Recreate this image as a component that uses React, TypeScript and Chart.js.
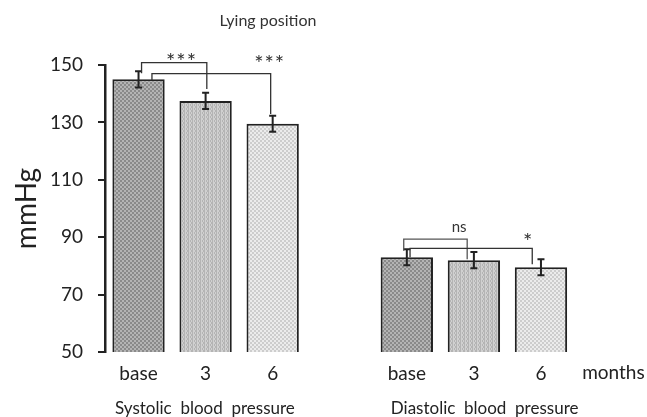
import React, { useEffect, useRef } from 'react';
import { Chart, registerables } from 'chart.js';

Chart.register(...registerables);

const FONT = 'Lato, "Open Sans", sans-serif';

const categories = ['base', '3', '6', '', 'base', '3', '6'];
const values: (number | null)[] = [145, 137.5, 129.5, null, 83, 82, 79.5];
const errors: (number | null)[] = [2.8, 2.8, 2.8, null, 2.8, 2.8, 2.8];
const patternKinds = ['dark', 'mid', 'light', 'light', 'dark', 'mid', 'light'];
const yMin = 50;
const yMax = 150;
const yStep = 20;
const titleText = 'Lying position';
const yTitle = 'mmHg';
const unitLabel = 'months';
const unitPos = 7.08;
const groupLabels = ['Systolic  blood  pressure', 'Diastolic  blood  pressure'];
const groupCenters = [0.99, 5.16];

// significance brackets: positions in category units, levels in mmHg
const bracketFrom = [0.045, 0.2, 3.954, 4.048];
const bracketTo = [1.018, 1.97, 4.9, 5.87];
const bracketLevel = [150.8, 147.0, 89.3, 86.1];
const bracketFromEnd = [147.1, 144.8, 85.3, 83.0];
const bracketToEnd = [141.6, 132.9, 82.3, 80.6];
const bracketColors = ['#333', '#333', '#555', '#333'];

const sigTexts = ['***', '***', 'ns', '*'];
const sigPos = [0.64, 1.955, 4.78, 5.81];
const sigLevel = [148.6, 147.9, 91.8, 85.9];

function makePattern(kind: string): CanvasPattern | string {
  const c = document.createElement('canvas');
  c.width = 4;
  c.height = 4;
  const g = c.getContext('2d');
  if (!g) return '#bbb';
  let a = '#8a8a8a';
  let b = '#b4b4b4';
  if (kind === 'mid') { a = '#b4b4b4'; b = '#d0d0d0'; }
  if (kind === 'light') { a = '#cdcdcd'; b = '#ececec'; }
  g.fillStyle = b;
  g.fillRect(0, 0, 4, 4);
  g.fillStyle = a;
  if (kind === 'mid') {
    g.fillRect(0, 0, 1, 4);
    g.fillRect(2, 0, 1, 2);
    g.fillRect(3, 2, 1, 2);
  } else {
    g.fillRect(0, 0, 2, 2);
    g.fillRect(2, 2, 2, 2);
  }
  const p = g.createPattern(c, 'repeat');
  return p || a;
}

const annotPlugin = {
  id: 'annot',
  afterDatasetsDraw(chart: any) {
    const ctx = chart.ctx as CanvasRenderingContext2D;
    const xs = chart.scales.x;
    const ys = chart.scales.y;
    const area = chart.chartArea;
    const slot = (area.right - area.left) / categories.length;
    const xAt = (p: number) => area.left + (p + 0.5) * slot;
    ctx.save();
    // error bars
    ctx.strokeStyle = '#222';
    ctx.lineWidth = 2;
    values.forEach((v, i) => {
      const e = errors[i];
      if (v == null || e == null) return;
      const x = xs.getPixelForValue(i);
      const yt = ys.getPixelForValue(v + e);
      const yb = ys.getPixelForValue(v - e);
      ctx.beginPath();
      ctx.moveTo(x, yt);
      ctx.lineTo(x, yb);
      ctx.moveTo(x - 3.5, yt);
      ctx.lineTo(x + 3.5, yt);
      ctx.moveTo(x - 3.5, yb);
      ctx.lineTo(x + 3.5, yb);
      ctx.stroke();
    });
    // brackets
    ctx.lineWidth = 1.3;
    bracketFrom.forEach((f, i) => {
      const x1 = xAt(f);
      const x2 = xAt(bracketTo[i]);
      const yl = ys.getPixelForValue(bracketLevel[i]);
      ctx.strokeStyle = bracketColors[i];
      ctx.beginPath();
      ctx.moveTo(x1, ys.getPixelForValue(bracketFromEnd[i]));
      ctx.lineTo(x1, yl);
      ctx.lineTo(x2, yl);
      ctx.lineTo(x2, ys.getPixelForValue(bracketToEnd[i]));
      ctx.stroke();
    });
    // significance labels
    ctx.fillStyle = '#333';
    ctx.textAlign = 'center';
    ctx.textBaseline = 'alphabetic';
    sigTexts.forEach((t, i) => {
      const isStar = t.indexOf('*') >= 0;
      ctx.font = (isStar ? '22px ' : '15px ') + FONT;
      (ctx as any).letterSpacing = isStar ? '1px' : '0px';
      ctx.fillText(t, xAt(sigPos[i]), ys.getPixelForValue(sigLevel[i]));
    });
    (ctx as any).letterSpacing = '0px';
    // title
    ctx.font = '16px ' + FONT;
    ctx.fillStyle = '#333';
    ctx.textBaseline = 'middle';
    ctx.fillText(titleText, 268, 21);
    // unit label
    ctx.font = '19px ' + FONT;
    ctx.fillStyle = '#222';
    ctx.fillText(unitLabel, xAt(unitPos), 373);
    // group labels
    ctx.font = '17px ' + FONT;
    groupLabels.forEach((g, i) => {
      ctx.fillText(g, xAt(groupCenters[i]), 409);
    });
    ctx.restore();
  },
};

export default function App() {
  const ref = useRef<HTMLCanvasElement>(null);
  useEffect(() => {
    if (!ref.current) return;
    const fills = patternKinds.map(makePattern);
    const chart = new Chart(ref.current, {
      type: 'bar',
      data: {
        labels: categories,
        datasets: [
          {
            data: values as any,
            backgroundColor: fills as any,
            borderColor: '#222',
            borderWidth: 2,
            borderSkipped: false,
            barPercentage: 0.78,
            categoryPercentage: 1,
          },
        ],
      },
      options: {
        responsive: false,
        animation: false,
        devicePixelRatio: 1,
        layout: { padding: { top: 65, right: 72.5, bottom: 0, left: 0 } },
        plugins: { legend: { display: false }, title: { display: false }, tooltip: { enabled: false } },
        scales: {
          x: {
            grid: { display: false, drawTicks: false },
            border: { display: false },
            ticks: { font: { family: FONT, size: 19 }, color: '#222', padding: 10, maxRotation: 0, autoSkip: false },
            afterFit: (s: any) => { s.height = 65; },
          },
          y: {
            min: yMin,
            max: yMax,
            grid: { drawOnChartArea: false, drawTicks: true, tickLength: 7, color: '#222', lineWidth: 2 },
            border: { display: true, color: '#222', width: 2.5 },
            ticks: { stepSize: yStep, font: { family: FONT, size: 19 }, color: '#222', padding: 15 },
            title: { display: true, text: yTitle, font: { family: FONT, size: 28 }, color: '#222', padding: { top: 10, bottom: 0 } },
            afterFit: (s: any) => { s.width = 105; },
          },
        },
      },
      plugins: [annotPlugin],
    });
    return () => chart.destroy();
  }, []);
  return (
    <div style={{ position: 'absolute', left: 0, top: 0, width: 647, height: 417, background: '#fff' }}>
      <canvas ref={ref} width={647} height={417} style={{ display: 'block' }} />
    </div>
  );
}
